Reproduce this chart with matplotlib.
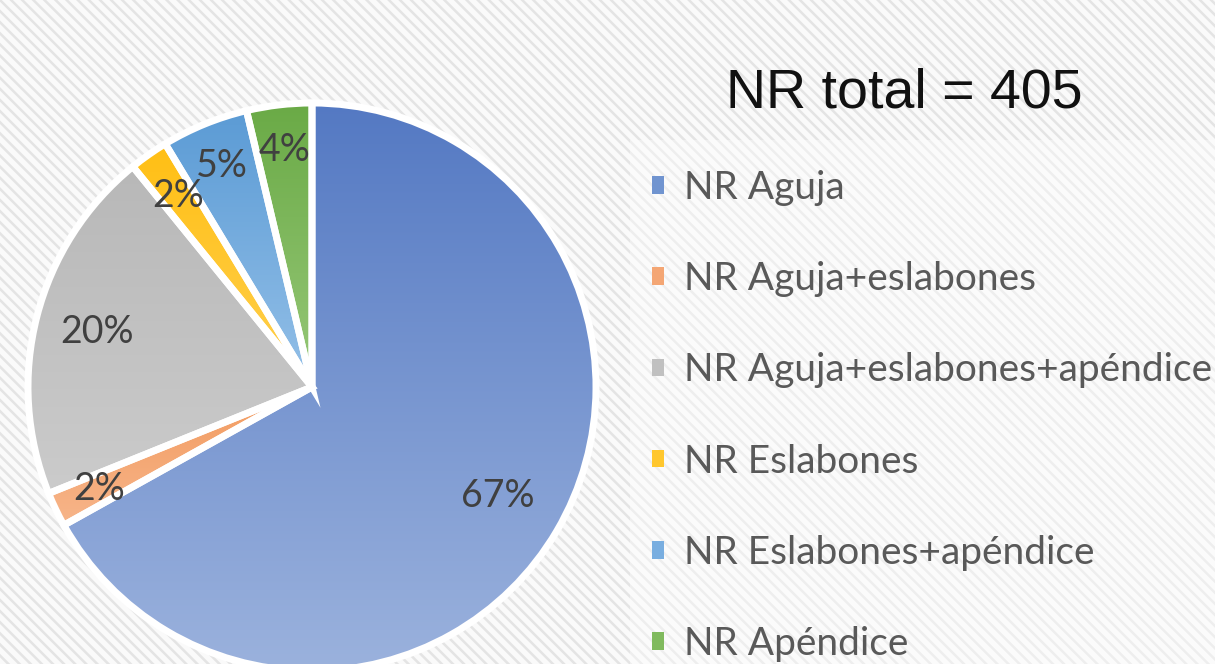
import numpy as np
import matplotlib
matplotlib.use("Agg")
import matplotlib.pyplot as plt
from matplotlib.patches import Patch, Rectangle
from matplotlib import font_manager
from matplotlib.colors import to_rgb

# raw data (NR total = 405)
labels = ["NR Aguja", "NR Aguja+eslabones", "NR Aguja+eslabones+apéndice",
          "NR Eslabones", "NR Eslabones+apéndice", "NR Apéndice"]
counts = [271, 8, 82, 9, 20, 15]
total_text = "NR total = 405"

# top / bottom gradient colours per slice
col_top = ["#5479C3", "#F29A5E", "#B8B8B8", "#FFBF14", "#5B9BD5", "#6AAA46"]
col_bot = ["#9BB2DD", "#F7B58A", "#CBCBCB", "#FFD04F", "#94C0E8", "#97C878"]
col_mid = ["#7094D0", "#F4A674", "#C0C0C0", "#FFC72E", "#79AEE0", "#80BA5E"]

# label distances from centre (fraction of radius)
pct_dist = [0.76, 0.83, 0.78, 0.82, 0.84, 0.84]

names = {f.name for f in font_manager.fontManager.ttflist}
narrow = "Liberation Sans Narrow" in names
plt.rcParams["hatch.linewidth"] = 1.8

W, H = 1215, 664
fig = plt.figure(figsize=(W / 100, H / 100), dpi=100)
fig.patch.set_facecolor("white")

# hatched background
bg = fig.add_axes([0, 0, 1, 1], zorder=-5)
bg.set_axis_off()
bg.set_xlim(0, 1); bg.set_ylim(0, 1)
bg.add_patch(Rectangle((0, 0), 1, 1, facecolor="#FAFAFA", edgecolor="#E4E4E4",
                       hatch="\\\\\\", lw=0))
# lighter legend panel
bg.add_patch(Rectangle((630 / W, 0), 1, 1 - 140 / H, facecolor="white",
                       edgecolor="none", alpha=0.4))

# pie axes: centre (312, 387) px, radius 284 px
cx, cy, r = 312, 387, 284
ax = fig.add_axes([(cx - r) / W, (H - cy - r) / H, 2 * r / W, 2 * r / H])
wedges, texts, autotexts = ax.pie(
    counts, startangle=90, counterclock=False,
    autopct=lambda p: f"{p:.0f}%",
    wedgeprops=dict(edgecolor="white", linewidth=5),
    textprops=dict(fontsize=27, color="#404040", family="Lato"))
ax.set_axis_off()

for i, w in enumerate(wedges):
    # gradient fill clipped to the wedge
    ext = w.get_path().get_extents()
    t = np.linspace(0, 1, 256)[:, None]
    c0, c1 = np.array(to_rgb(col_top[i])), np.array(to_rgb(col_bot[i]))
    img = (c0 * (1 - t) + c1 * t)[:, None, :]
    im = ax.imshow(img, extent=(ext.x0, ext.x1, ext.y0, ext.y1), origin="upper",
                   aspect="auto", zorder=1, interpolation="bilinear")
    im.set_clip_path(w)
    w.set_facecolor("none")
    w.set_zorder(2)
    ang = np.deg2rad((w.theta1 + w.theta2) / 2)
    autotexts[i].set_position((pct_dist[i] * np.cos(ang), pct_dist[i] * np.sin(ang)))
    autotexts[i].set_zorder(3)
ax.set_xlim(-1, 1); ax.set_ylim(-1, 1)

# total text
if narrow:
    fig.text(904 / W, 1 - 93 / H, total_text, fontsize=47, family="Liberation Sans Narrow",
             color="#111111", ha="center", va="center")
else:
    fig.text(904 / W, 1 - 93 / H, total_text, fontsize=40, family="Liberation Sans",
             color="#111111", ha="center", va="center")

handles = [Patch(facecolor=c, edgecolor="none") for c in col_mid]
fig.legend(handles, labels, loc="upper left", bbox_to_anchor=(652 / W, 1 - 170 / H),
           frameon=False, prop=dict(family="Lato", size=28),
           labelcolor="#595959", handlelength=0.32, handleheight=0.32,
           handletextpad=0.5, labelspacing=1.42, borderpad=0, borderaxespad=0)

fig.savefig("out.png", dpi=100)
